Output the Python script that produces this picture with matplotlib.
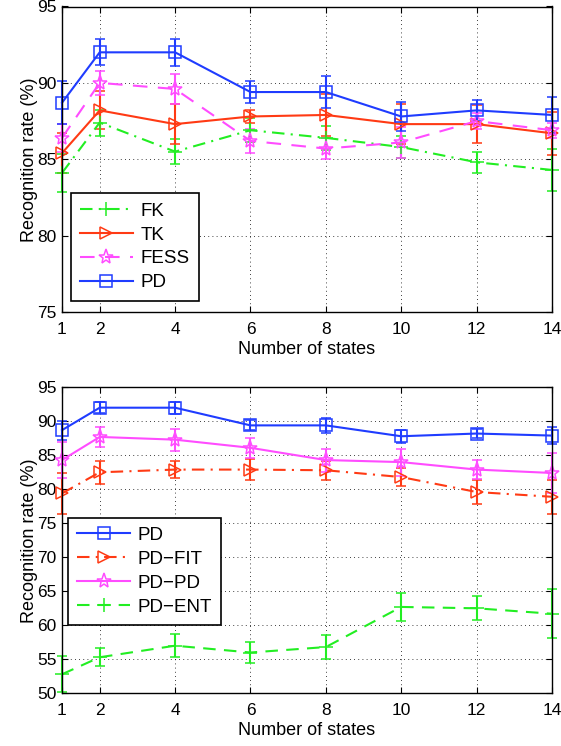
import numpy as np
import matplotlib
matplotlib.use("Agg")
import matplotlib.pyplot as plt

plt.rcParams['font.family'] = ['Liberation Sans', 'DejaVu Sans']
plt.rcParams['font.size'] = 12.5

states = [1, 2, 4, 6, 8, 10, 12, 14]

# top panel
fk = [84.1, 87.4, 85.5, 86.9, 86.4, 85.8, 84.8, 84.3]
fk_err = [1.25, 0.85, 0.8, 0.8, 0.8, 0.7, 0.7, 1.4]
tk = [85.4, 88.2, 87.3, 87.8, 87.9, 87.3, 87.3, 86.7]
tk_err = [1.3, 1.25, 1.3, 0.4, 1.4, 1.3, 1.25, 1.4]
fess = [86.4, 90.0, 89.6, 86.2, 85.7, 86.1, 87.5, 86.9]
fess_err = [0.9, 0.8, 1.0, 0.8, 0.7, 1.0, 0.5, 0.5]
pd_ = [88.7, 92.0, 92.0, 89.4, 89.4, 87.8, 88.2, 87.9]
pd_err = [1.4, 0.85, 0.9, 0.75, 1.05, 0.95, 0.7, 1.2]
top_labels = ['FK', 'TK', 'FESS', 'PD']

# bottom panel
pd_fit = [79.4, 82.5, 82.9, 82.9, 82.8, 81.8, 79.6, 78.9]
pd_fit_err = [3.0, 1.65, 1.2, 1.6, 1.4, 1.3, 1.8, 2.5]
pd_pd = [84.3, 87.7, 87.3, 86.1, 84.3, 84.0, 82.9, 82.4]
pd_pd_err = [2.7, 1.45, 1.6, 1.5, 1.7, 2.0, 1.45, 3.0]
pd_ent = [52.8, 55.3, 57.0, 56.0, 56.8, 62.7, 62.5, 61.7]
pd_ent_err = [2.65, 1.35, 1.65, 1.55, 1.75, 2.05, 1.75, 3.6]
bottom_labels = ['PD', 'PD\u2212FIT', 'PD\u2212PD', 'PD\u2212ENT']

blue = '#1f3cff'
red = '#ff3a14'
mag = '#ff4cff'
green = '#22ee22'

fig = plt.figure(figsize=(5.61, 7.46), dpi=100)
ax1 = fig.add_axes([62/561, 1-312/746, (552-62)/561, (312-6.5)/746])
ax2 = fig.add_axes([62/561, 1-693.3/746, (552-62)/561, (693.3-387.3)/746])


def draw(ax, y, e, col, ls, mk, ms=9):
    c = ax.errorbar(states, y, yerr=e, color=col, ls=ls, marker=mk, ms=ms,
                    mfc='none', mec=col, mew=1.1, lw=1.5, capsize=3.5, capthick=1.5,
                    elinewidth=1.5, clip_on=False)
    return c[0]


h1 = [draw(ax1, fk, fk_err, green, (0, (6, 3, 1, 3)), '+', 10),
      draw(ax1, tk, tk_err, red, '-', '>'),
      draw(ax1, fess, fess_err, mag, (0, (7, 5)), '*', 11),
      draw(ax1, pd_, pd_err, blue, '-', 's', 8)]

h2 = [draw(ax2, pd_, pd_err, blue, '-', 's', 8),
      draw(ax2, pd_fit, pd_fit_err, red, (0, (6, 3, 1, 3)), '>'),
      draw(ax2, pd_pd, pd_pd_err, mag, '-', '*', 11),
      draw(ax2, pd_ent, pd_ent_err, green, (0, (6, 4)), '+', 10)]

for ax, lo, hi, hs, labs, anc in [(ax1, 75, 95, h1, top_labels, (0.018, 0.037)),
                                  (ax2, 50, 95, h2, bottom_labels, (0.012, 0.223))]:
    ax.set_xlim(1, 14)
    ax.set_ylim(lo, hi)
    ax.set_xticks(states)
    ax.set_yticks(np.arange(lo, hi + 1, 5))
    ax.grid(True, color='black', ls=(0, (1, 4)), lw=0.6)
    ax.tick_params(direction='in', top=True, right=True, length=4)
    ax.tick_params(axis='x', pad=7)
    ax.tick_params(axis='y', pad=4)
    for s in ax.spines.values():
        s.set_linewidth(1.0)
    ax.set_xlabel('Number of states', labelpad=3, fontsize=13)
    ax.set_ylabel('Recognition rate (%)', labelpad=-1, fontsize=13)
    leg = ax.legend(hs, labs, loc='lower left', fancybox=False, framealpha=1,
                    edgecolor='black', handlelength=2.8, handletextpad=0.4,
                    borderpad=0.5, labelspacing=0.36, borderaxespad=0,
                    bbox_to_anchor=anc, fontsize=13.5)
    leg.get_frame().set_linewidth(1.2)

fig.savefig('out.png', dpi=100)
